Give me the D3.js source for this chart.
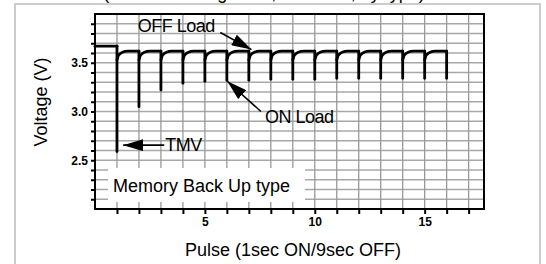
<!DOCTYPE html>
<html>
<head>
<meta charset="utf-8">
<script src="https://d3js.org/d3.v7.min.js"></script>
<style>
  html, body { margin: 0; padding: 0; background: #fff; }
  svg { display: block; font-family: "Liberation Sans", Arial, sans-serif; }
</style>
</head>
<body>
<div id="chart"></div>
<script>
// Pulse discharge curve - voltage under ON/OFF load
const pulseNo = [1, 2, 3, 4, 5, 6, 7, 8, 9, 10, 11, 12, 13, 14, 15, 16];
const onLoadVolt = [2.59, 3.05, 3.22, 3.29, 3.31, 3.32, 3.32, 3.33, 3.33, 3.33, 3.34, 3.34, 3.34, 3.34, 3.34, 3.34];
const initialVolt = 3.67;
// recovery after each pulse (fraction of one cycle, voltage)
const recoveryT = [0, 0.06, 0.14, 0.25, 0.37, 0.5, 1.0];
const recoveryV = [3.53, 3.572, 3.593, 3.607, 3.616, 3.62, 3.62];

const xTicks = [1, 2, 3, 4, 5, 6, 7, 8, 9, 10, 11, 12, 13, 14, 15, 16, 17];
const xLabels = [5, 10, 15];
const yTicks = [2.1, 2.2, 2.3, 2.4, 2.5, 2.6, 2.7, 2.8, 2.9, 3.0, 3.1, 3.2, 3.3, 3.4, 3.5, 3.6, 3.7, 3.8, 3.9];
const yLabels = [2.5, 3.0, 3.5];

const width = 546, height = 264;
const plot = { left: 95, right: 484, top: 14, bottom: 209 };

const svg = d3.select('#chart').append('svg')
    .attr('width', width)
    .attr('height', height);

// outer frame
svg.append('rect')
    .attr('x', 15).attr('y', 4)
    .attr('width', 525).attr('height', 300)
    .attr('fill', '#fff')
    .attr('stroke', '#cccccc')
    .attr('stroke-width', 2);

// title line, cut off at the top of the picture as in the source
svg.append('text')
    .attr('x', 264).attr('y', -1)
    .attr('text-anchor', 'middle')
    .style('font-size', '18px')
    .text('(Pulse discharge test, Ta=23°C, by type)');

const x = d3.scaleLinear().domain([0, 17.7]).range([plot.left, plot.right]);
const y = d3.scaleLinear().domain([2.0, 4.0]).range([plot.bottom, plot.top]);

// grid
const grid = svg.append('g');
grid.selectAll('line.h')
    .data(yTicks)
    .join('line')
    .attr('class', 'h')
    .attr('x1', plot.left).attr('x2', plot.right)
    .attr('y1', d => y(d)).attr('y2', d => y(d))
    .attr('stroke', '#a8a8a8')
    .attr('stroke-width', 1.3);
grid.selectAll('line.v')
    .data(xTicks)
    .join('line')
    .attr('class', 'v')
    .attr('y1', plot.top).attr('y2', plot.bottom)
    .attr('x1', d => x(d)).attr('x2', d => x(d))
    .attr('stroke', '#999')
    .attr('stroke-width', 1.3);

// label box
svg.append('rect')
    .attr('x', 108).attr('y', 168)
    .attr('width', 197).attr('height', 34)
    .attr('fill', '#fff');
svg.append('text')
    .attr('x', 113).attr('y', 192)
    .style('font-size', '18px')
    .text('Memory Back Up type');

// axes
const yAxis = d3.axisLeft(y)
    .tickValues(yTicks)
    .tickSize(4)
    .tickPadding(3)
    .tickFormat(d => yLabels.some(v => Math.abs(v - d) < 1e-6) ? d3.format('.1f')(d) : '');
const xAxis = d3.axisBottom(x)
    .tickValues(xTicks)
    .tickSize(5)
    .tickPadding(3)
    .tickFormat(d => xLabels.includes(d) ? d : '');

const gy = svg.append('g')
    .attr('transform', `translate(${plot.left},0)`)
    .call(yAxis);
const gx = svg.append('g')
    .attr('transform', `translate(0,${plot.bottom})`)
    .call(xAxis);
[gx, gy].forEach(g => {
    g.select('.domain').remove();
    g.selectAll('line').attr('stroke', '#000').attr('stroke-width', 2);
    g.selectAll('text')
        .attr('fill', '#000')
        .style('font-size', '12px')
        .style('font-weight', 'bold')
        .style('font-family', '"Liberation Sans", Arial, sans-serif');
});

svg.append('rect')
    .attr('x', plot.left).attr('y', plot.top)
    .attr('width', plot.right - plot.left)
    .attr('height', plot.bottom - plot.top)
    .attr('fill', 'none')
    .attr('stroke', '#000')
    .attr('stroke-width', 2);

// voltage curve
const lineLinear = d3.line().x(d => x(d[0])).y(d => y(d[1]));
const lineCurve = d3.line().x(d => x(d[0])).y(d => y(d[1])).curve(d3.curveMonotoneX);
const curveG = svg.append('g')
    .attr('fill', 'none')
    .attr('stroke', '#000')
    .attr('stroke-width', 2.8)
    .attr('stroke-linejoin', 'round')
    .attr('stroke-linecap', 'round');

curveG.append('path')
    .attr('d', lineLinear([[0, initialVolt], [pulseNo[0], initialVolt]]));

pulseNo.forEach((p, i) => {
    const top = i === 0 ? initialVolt : recoveryV[recoveryV.length - 1];
    curveG.append('path')
        .attr('d', lineLinear([[p, top], [p, onLoadVolt[i]]]));
    if (i < pulseNo.length - 1) {
        const span = pulseNo[i + 1] - p;
        const pts = recoveryT.map((t, k) => [p + t * span, recoveryV[k]]);
        curveG.append('path').attr('d', lineCurve(pts));
    }
});

// annotations
const defs = svg.append('defs');
defs.append('marker')
    .attr('id', 'head')
    .attr('markerUnits', 'userSpaceOnUse')
    .attr('viewBox', '0 -6 20 12')
    .attr('refX', 20).attr('refY', 0)
    .attr('markerWidth', 20).attr('markerHeight', 12)
    .attr('orient', 'auto')
    .append('path')
    .attr('d', 'M0,-6 L20,0 L0,6 Z')
    .attr('fill', '#000');

const notes = [
    { label: 'OFF Load', tx: 1.95, ty: 3.815, from: [5.7, 3.81], to: [7.12, 3.635] },
    { label: 'ON Load', tx: 7.73, ty: 2.88, from: [7.55, 3.0], to: [6.02, 3.31] },
    { label: 'TMV', tx: 3.2, ty: 2.6, from: [3.15, 2.655], to: [1.28, 2.655] }
];
notes.forEach(n => {
    svg.append('line')
        .attr('x1', x(n.from[0])).attr('y1', y(n.from[1]))
        .attr('x2', x(n.to[0])).attr('y2', y(n.to[1]))
        .attr('stroke', '#000')
        .attr('stroke-width', 1.6)
        .attr('marker-end', 'url(#head)');
    svg.append('text')
        .attr('x', x(n.tx)).attr('y', y(n.ty))
        .style('font-size', '18px')
        .style('letter-spacing', '-0.5px')
        .text(n.label);
});

// axis titles
svg.append('text')
    .attr('transform', 'translate(41,102) rotate(-90)')
    .attr('text-anchor', 'middle')
    .attr('dy', '0.35em')
    .style('font-size', '18px')
    .text('Voltage (V)');
svg.append('text')
    .attr('x', 293).attr('y', 256)
    .attr('text-anchor', 'middle')
    .style('font-size', '18px')
    .text('Pulse (1sec ON/9sec OFF)');
</script>
</body>
</html>
